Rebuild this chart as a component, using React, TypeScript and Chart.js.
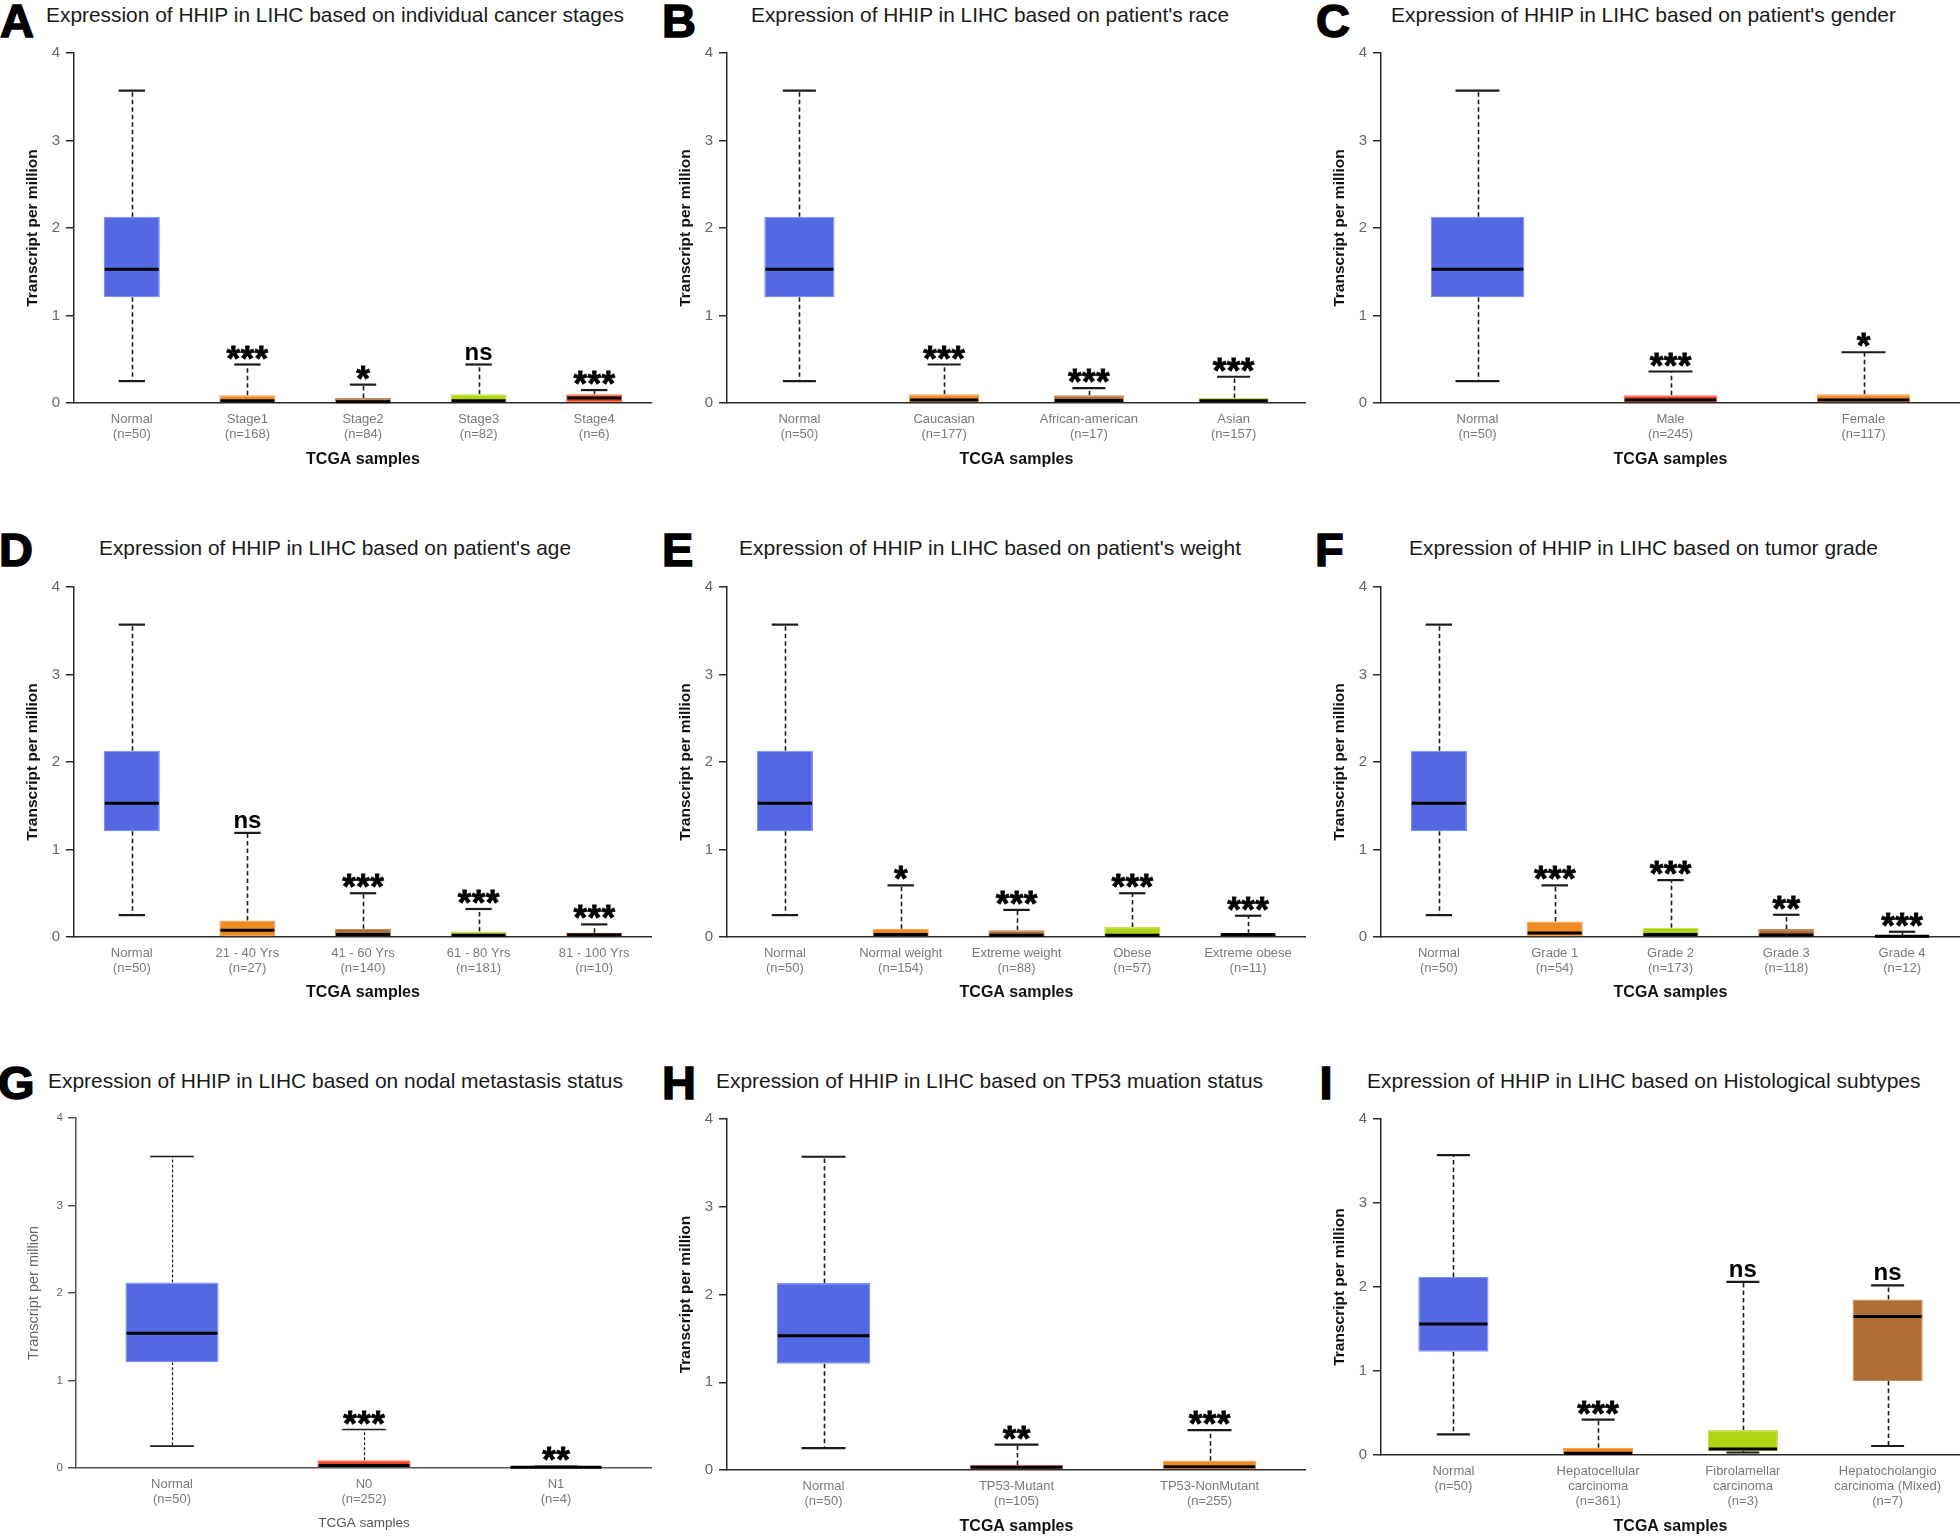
import React, { useEffect, useLayoutEffect, useRef } from "react";
import { Chart, registerables } from "chart.js";

Chart.register(...registerables);

const FONT = "'Liberation Sans', Arial, Helvetica, sans-serif";
Chart.defaults.font.family = FONT;

// ---------------- DATA ----------------
// A: individual cancer stages
const A_labels = ["Normal", "Stage1", "Stage2", "Stage3", "Stage4"];
const A_n = [50, 168, 84, 82, 6];
const A_min = [0.25, 0, 0, 0, 0];
const A_q1 = [1.21, 0, 0, 0, 0];
const A_med = [1.53, 0.025, 0.015, 0.025, 0.057];
const A_q3 = [2.13, 0.088, 0.057, 0.1, 0.1];
const A_max = [3.57, 0.44, 0.21, 0.44, 0.148];
const A_sig = ["", "***", "*", "ns", "***"];

// B: patient's race
const B_labels = ["Normal", "Caucasian", "African-american", "Asian"];
const B_n = [50, 177, 17, 157];
const B_min = [0.25, 0, 0, 0];
const B_q1 = [1.21, 0, 0, 0];
const B_med = [1.53, 0.035, 0.03, 0.025];
const B_q3 = [2.13, 0.1, 0.088, 0.057];
const B_max = [3.57, 0.44, 0.17, 0.3];
const B_sig = ["", "***", "***", "***"];

// C: patient's gender
const C_labels = ["Normal", "Male", "Female"];
const C_n = [50, 245, 117];
const C_min = [0.25, 0, 0];
const C_q1 = [1.21, 0, 0];
const C_med = [1.53, 0.035, 0.035];
const C_q3 = [2.13, 0.088, 0.1];
const C_max = [3.57, 0.36, 0.58];
const C_sig = ["", "***", "*"];

// D: patient's age
const D_labels = ["Normal", "21 - 40 Yrs", "41 - 60 Yrs", "61 - 80 Yrs", "81 - 100 Yrs"];
const D_n = [50, 27, 140, 181, 10];
const D_min = [0.25, 0, 0, 0, 0];
const D_q1 = [1.21, 0, 0, 0, 0];
const D_med = [1.53, 0.076, 0.03, 0.02, 0.027];
const D_q3 = [2.13, 0.19, 0.095, 0.064, 0.05];
const D_max = [3.57, 1.19, 0.5, 0.32, 0.144];
const D_sig = ["", "ns", "***", "***", "***"];

// E: patient's weight
const E_labels = ["Normal", "Normal weight", "Extreme weight", "Obese", "Extreme obese"];
const E_n = [50, 154, 88, 57, 11];
const E_min = [0.25, 0, 0, 0, 0];
const E_q1 = [1.21, 0, 0, 0, 0];
const E_med = [1.53, 0.03, 0.02, 0.02, 0.03];
const E_q3 = [2.13, 0.095, 0.076, 0.114, 0.038];
const E_max = [3.57, 0.59, 0.31, 0.5, 0.243];
const E_sig = ["", "*", "***", "***", "***"];

// F: tumor grade
const F_labels = ["Normal", "Grade 1", "Grade 2", "Grade 3", "Grade 4"];
const F_n = [50, 54, 173, 118, 12];
const F_min = [0.25, 0, 0, 0, 0];
const F_q1 = [1.21, 0, 0, 0, 0];
const F_med = [1.53, 0.045, 0.03, 0.023, 0.01];
const F_q3 = [2.13, 0.178, 0.106, 0.091, 0.015];
const F_max = [3.57, 0.59, 0.65, 0.254, 0.06];
const F_sig = ["", "***", "***", "**", "***"];

// G: nodal metastasis status
const G_labels = ["Normal", "N0", "N1"];
const G_n = [50, 252, 4];
const G_min = [0.25, 0, 0];
const G_q1 = [1.21, 0, 0];
const G_med = [1.54, 0.03, 0.01];
const G_q3 = [2.12, 0.088, 0.012];
const G_max = [3.56, 0.44, 0.02];
const G_sig = ["", "***", "**"];

// H: TP53 mutation status
const H_labels = ["Normal", "TP53-Mutant", "TP53-NonMutant"];
const H_n = [50, 105, 255];
const H_min = [0.25, 0, 0];
const H_q1 = [1.21, 0, 0];
const H_med = [1.53, 0.03, 0.038];
const H_q3 = [2.13, 0.057, 0.106];
const H_max = [3.57, 0.29, 0.455];
const H_sig = ["", "**", "***"];

// I: histological subtypes
const I_labels = ["Normal", "Hepatocellular\ncarcinoma", "Fibrolamellar\ncarcinoma", "Hepatocholangio\ncarcinoma (Mixed)"];
const I_n = [50, 361, 3, 7];
const I_min = [0.245, 0, 0.03, 0.107];
const I_q1 = [1.23, 0, 0.047, 0.88];
const I_med = [1.56, 0.02, 0.071, 1.65];
const I_q3 = [2.12, 0.087, 0.297, 1.85];
const I_max = [3.57, 0.42, 2.06, 2.02];
const I_sig = ["", "***", "ns", "ns"];

// ---------------- STYLE ----------------
const BLUE = { fill: "#5468E3", edge: "#7D90F6" };
const ORANGE = { fill: "#F08A24", edge: "#F6A453" };
const BROWN = { fill: "#AE6E36", edge: "#C38C5C" };
const LIME = { fill: "#B0D414", edge: "#C6E153" };
const RED = { fill: "#F5401E", edge: "#FA7256" };

const DATA: any = {
  A: { labels: A_labels, n: A_n, min: A_min, q1: A_q1, med: A_med, q3: A_q3, max: A_max, sig: A_sig, colors: [BLUE, ORANGE, BROWN, LIME, RED] },
  B: { labels: B_labels, n: B_n, min: B_min, q1: B_q1, med: B_med, q3: B_q3, max: B_max, sig: B_sig, colors: [BLUE, ORANGE, BROWN, LIME] },
  C: { labels: C_labels, n: C_n, min: C_min, q1: C_q1, med: C_med, q3: C_q3, max: C_max, sig: C_sig, colors: [BLUE, RED, ORANGE] },
  D: { labels: D_labels, n: D_n, min: D_min, q1: D_q1, med: D_med, q3: D_q3, max: D_max, sig: D_sig, colors: [BLUE, ORANGE, BROWN, LIME, RED] },
  E: { labels: E_labels, n: E_n, min: E_min, q1: E_q1, med: E_med, q3: E_q3, max: E_max, sig: E_sig, colors: [BLUE, ORANGE, BROWN, LIME, RED] },
  F: { labels: F_labels, n: F_n, min: F_min, q1: F_q1, med: F_med, q3: F_q3, max: F_max, sig: F_sig, colors: [BLUE, ORANGE, LIME, BROWN, RED] },
  G: { labels: G_labels, n: G_n, min: G_min, q1: G_q1, med: G_med, q3: G_q3, max: G_max, sig: G_sig, colors: [BLUE, RED, RED] },
  H: { labels: H_labels, n: H_n, min: H_min, q1: H_q1, med: H_med, q3: H_q3, max: H_max, sig: H_sig, colors: [BLUE, RED, ORANGE] },
  I: { labels: I_labels, n: I_n, min: I_min, q1: I_q1, med: I_med, q3: I_q3, max: I_max, sig: I_sig, colors: [BLUE, ORANGE, LIME, BROWN] },
};

const TITLE_PREFIX = "Expression of HHIP in LIHC based on ";

const PANELS = [
  { key: "A", title: "individual cancer stages", axisX: 74, right: 652, y4: 52, y0: 403, tcga: 57, letterX: 0, letterY: -3, titleX: 46.3, titleY: 3.7, titleW: 578, light: false },
  { key: "B", title: "patient's race", axisX: 727, right: 1306, y4: 52, y0: 403, tcga: 57, letterX: 662, letterY: -3, titleX: 751.3, titleY: 3.7, titleW: 478, light: false },
  { key: "C", title: "patient's gender", axisX: 1381, right: 1960, y4: 52, y0: 403, tcga: 57, letterX: 1316, letterY: -3, titleX: 1391.3, titleY: 3.7, titleW: 505, light: false },
  { key: "D", title: "patient's age", axisX: 74, right: 652, y4: 586, y0: 937, tcga: 56, letterX: -1, letterY: 526, titleX: 99.3, titleY: 536.7, titleW: 472, light: false },
  { key: "E", title: "patient's weight", axisX: 727, right: 1306, y4: 586, y0: 937, tcga: 56, letterX: 662, letterY: 526, titleX: 739.3, titleY: 536.7, titleW: 502, light: false },
  { key: "F", title: "tumor grade", axisX: 1381, right: 1960, y4: 586, y0: 937, tcga: 56, letterX: 1315, letterY: 526, titleX: 1409.3, titleY: 536.7, titleW: 469, light: false },
  { key: "G", title: "nodal metastasis status", axisX: 76, right: 652, y4: 1118, y0: 1468, tcga: 55, letterX: -2, letterY: 1059, titleX: 48.3, titleY: 1069.7, titleW: 575, light: true },
  { key: "H", title: "TP53 muation status", axisX: 727, right: 1306, y4: 1118, y0: 1470, tcga: 57, letterX: 662, letterY: 1059, titleX: 716.3, titleY: 1069.7, titleW: 547, light: false },
  { key: "I", title: "Histological subtypes", axisX: 1381, right: 1960, y4: 1118, y0: 1455, tcga: 72, letterX: 1319.6, letterY: 1059, titleX: 1367.3, titleY: 1069.7, titleW: 553.5, light: false },
];

const YW = 74;
const PT = 14;
const XH = 88;

function boxPlugin(d: any, light: boolean) {
  const ink = "#1b1b1b";
  return {
    id: "boxplot",
    beforeDatasetsDraw(chart: any) {
      const { ctx, scales } = chart;
      const x = scales.x;
      const y = scales.y;
      ctx.save();
      ctx.strokeStyle = ink;
      ctx.lineWidth = light ? 1.2 : 1.6;
      ctx.setLineDash(light ? [3, 2] : [4.5, 3]);
      d.q1.forEach((_: number, i: number) => {
        const cx = Math.round(x.getPixelForValue(i)) + 0.5;
        ctx.beginPath();
        ctx.moveTo(cx, y.getPixelForValue(d.q3[i]));
        ctx.lineTo(cx, y.getPixelForValue(d.max[i]));
        ctx.stroke();
        if (d.min[i] < d.q1[i]) {
          ctx.beginPath();
          ctx.moveTo(cx, y.getPixelForValue(d.q1[i]));
          ctx.lineTo(cx, y.getPixelForValue(d.min[i]));
          ctx.stroke();
        }
      });
      ctx.restore();
    },
    afterDatasetsDraw(chart: any) {
      const { ctx, scales } = chart;
      const x = scales.x;
      const y = scales.y;
      const meta = chart.getDatasetMeta(0);
      ctx.save();
      d.q1.forEach((_: number, i: number) => {
        const cx = x.getPixelForValue(i);
        const bw = meta.data[i].width;
        const capHalf = bw * 0.235;
        // caps
        ctx.setLineDash([]);
        ctx.strokeStyle = ink;
        ctx.lineWidth = light ? 1.6 : 2.2;
        const yMax = y.getPixelForValue(d.max[i]);
        const yMin = y.getPixelForValue(d.min[i]);
        ctx.beginPath();
        ctx.moveTo(cx - capHalf, yMax);
        ctx.lineTo(cx + capHalf, yMax);
        ctx.stroke();
        if (d.min[i] > 0) {
          ctx.beginPath();
          ctx.moveTo(cx - capHalf, yMin);
          ctx.lineTo(cx + capHalf, yMin);
          ctx.stroke();
        }
        // median
        ctx.strokeStyle = "#000";
        ctx.lineWidth = 3;
        const yMed = y.getPixelForValue(d.med[i]);
        ctx.beginPath();
        ctx.moveTo(cx - bw / 2 + 1, yMed);
        ctx.lineTo(cx + bw / 2 - 1, yMed);
        ctx.stroke();
        // significance
        const s = d.sig[i];
        if (s) {
          ctx.fillStyle = "#000";
          ctx.textAlign = "center";
          ctx.textBaseline = "alphabetic";
          const gap = 5;
          if (s[0] === "*") {
            ctx.font = `bold 35px ${FONT}`;
            ctx.strokeStyle = "#000";
            ctx.lineWidth = 0.8;
            const m = ctx.measureText("*");
            const base = yMax - gap - m.actualBoundingBoxDescent;
            const step = 14;
            for (let k = 0; k < s.length; k++) {
              const sx = cx + (k - (s.length - 1) / 2) * step;
              ctx.fillText("*", sx, base);
              ctx.strokeText("*", sx, base);
            }
          } else {
            ctx.font = `bold 24px ${FONT}`;
            const m = ctx.measureText(s);
            const base = yMax - gap - m.actualBoundingBoxDescent;
            ctx.fillText(s, cx, base);
          }
        }
      });
      ctx.restore();
    },
  };
}

function BoxPanel({ p }: { p: any }) {
  const ref = useRef<HTMLCanvasElement>(null);
  const d = DATA[p.key];
  const left = p.axisX - YW;
  const top = p.y4 - PT;
  const width = p.right - left;
  const height = p.y0 - p.y4 + PT + XH;

  useEffect(() => {
    if (!ref.current) return;
    const light = p.light;
    const labels = d.labels.map((l: string, i: number) => [...l.split("\n"), `(n=${d.n[i]})`]);
    const yTitleFont = light ? { size: 14.5, weight: "normal" as const, lineHeight: 1.2 } : { size: 15.5, weight: "bold" as const, lineHeight: 1.2 };
    const yTitleLH = yTitleFont.size * 1.2;
    const xTitleFont = light ? { size: 13.5, weight: "normal" as const, lineHeight: 1.2 } : { size: 16, weight: "bold" as const, lineHeight: 1.2 };
    const xTitleLH = xTitleFont.size * 1.2;
    const yTitleX = YW - (light ? 42 : 41);
    const catFont = { size: 13, lineHeight: 1.18 };
    const axisColor = light ? "#555" : "#2a2a2a";

    const chart = new Chart(ref.current, {
      type: "bar",
      data: {
        labels,
        datasets: [
          {
            data: d.q1.map((v: number, i: number) => [v, d.q3[i]]),
            backgroundColor: d.colors.map((c: any) => c.fill),
            borderColor: d.colors.map((c: any) => c.edge),
            borderWidth: 1.2,
            borderSkipped: false,
            barPercentage: 0.485,
            categoryPercentage: 1,
          } as any,
        ],
      },
      options: {
        responsive: false,
        animation: false,
        events: [],
        layout: { padding: { top: PT, right: 0, left: 0, bottom: 0 } },
        plugins: {
          legend: { display: false },
          tooltip: { enabled: false },
          title: { display: false },
        },
        scales: {
          x: {
            type: "category",
            offset: true,
            grid: { display: false, drawTicks: false },
            border: { display: true, color: axisColor, width: 1.5 },
            ticks: {
              color: "#7a7a7a",
              font: catFont,
              padding: 16 - (catFont.size * catFont.lineHeight) / 2,
              maxRotation: 0,
              minRotation: 0,
              autoSkip: false,
            },
            title: {
              display: true,
              text: "TCGA samples",
              color: light ? "#555" : "#111",
              font: xTitleFont,
              padding: { top: 0, bottom: XH - p.tcga - xTitleLH / 2 },
            },
            afterFit: (s: any) => {
              s.height = XH;
            },
          },
          y: {
            min: 0,
            max: 4,
            ticks: {
              stepSize: 1,
              color: "#666",
              font: { size: light ? 11.5 : 15 },
              padding: light ? 5 : 6,
            },
            grid: {
              display: true,
              drawOnChartArea: false,
              drawTicks: true,
              tickLength: 8,
              color: axisColor,
              lineWidth: 1.5,
            },
            border: { display: true, color: axisColor, width: 1.5 },
            title: {
              display: true,
              text: "Transcript per million",
              color: light ? "#666" : "#111",
              font: yTitleFont,
              padding: { top: yTitleX - yTitleLH / 2, bottom: 0 },
            },
            afterFit: (s: any) => {
              s.width = YW;
            },
          },
        },
      },
      plugins: [boxPlugin(d, light)],
    } as any);
    return () => chart.destroy();
  }, []);

  return (
    <canvas
      ref={ref}
      width={width}
      height={height}
      style={{ position: "absolute", left, top, width, height }}
    />
  );
}

function FitTitle({ text, left, top, width }: { text: string; left: number; top: number; width: number }) {
  const ref = useRef<HTMLSpanElement>(null);
  useLayoutEffect(() => {
    const el = ref.current;
    if (!el) return;
    const fit = () => {
      el.style.transform = "none";
      const w = el.getBoundingClientRect().width;
      if (w > 0) el.style.transform = `scaleX(${width / w})`;
    };
    fit();
    const fonts: any = (document as any).fonts;
    if (fonts && fonts.ready) fonts.ready.then(fit);
  }, [width]);
  return (
    <span
      ref={ref}
      style={{
        position: "absolute",
        left,
        top,
        whiteSpace: "nowrap",
        fontFamily: FONT,
        fontSize: 21,
        lineHeight: "21px",
        color: "#1a1a1a",
        transformOrigin: "0 0",
      }}
    >
      {text}
    </span>
  );
}

export default function App() {
  return (
    <div
      style={{
        position: "absolute",
        left: 0,
        top: 0,
        width: 1960,
        height: 1536,
        background: "#fff",
        overflow: "hidden",
      }}
    >
      {PANELS.map((p) => (
        <React.Fragment key={p.key}>
          <div
            style={{
              position: "absolute",
              left: p.letterX,
              top: p.letterY,
              fontFamily: FONT,
              fontWeight: 700,
              fontSize: 47,
              lineHeight: "47px",
              color: "#000",
              WebkitTextStroke: "1.5px #000",
            }}
          >
            {p.key}
          </div>
          <FitTitle text={TITLE_PREFIX + p.title} left={p.titleX} top={p.titleY} width={p.titleW} />
          <BoxPanel p={p} />
        </React.Fragment>
      ))}
    </div>
  );
}
